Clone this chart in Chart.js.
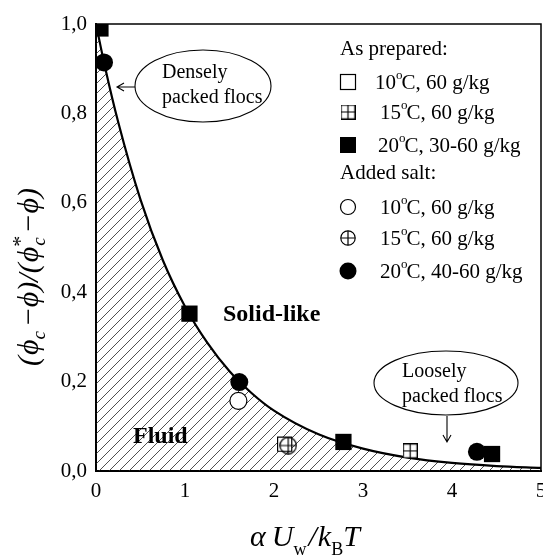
<!DOCTYPE html>
<html><head><meta charset="utf-8">
<script src="https://cdn.jsdelivr.net/npm/chart.js@4/dist/chart.umd.min.js"></script>
<style>html,body{margin:0;padding:0;background:#fff;overflow:hidden}</style>
</head><body>
<canvas id="c" width="543" height="555" style="width:543px;height:555px;display:block"></canvas>
<script>
// ---- data ----
const xTickLabels = ['0', '1', '2', '3', '4', '5'];
const yTickLabels = ['0,0', '0,2', '0,4', '0,6', '0,8', '1,0'];

// fitted boundary curve
const curveX = [0, 0.1, 0.25, 0.5, 0.75, 1.0, 1.25, 1.5, 1.75, 2.0, 2.5, 3.0, 3.5, 4.0, 4.5, 5.0];
const curveY = [1.0, 0.905, 0.78, 0.607, 0.472, 0.368, 0.287, 0.223, 0.174, 0.135, 0.082, 0.05, 0.03, 0.018, 0.011, 0.007];

// As prepared
const prep10X = [2.12];  const prep10Y = [0.06];
const prep15X = [3.53];  const prep15Y = [0.045];
const prep20X = [0.05, 1.05, 2.78, 4.45]; const prep20Y = [0.99, 0.352, 0.065, 0.038];
// Added salt
const salt10X = [1.60];  const salt10Y = [0.157];
const salt15X = [2.16];  const salt15Y = [0.057];
const salt20X = [0.09, 1.61, 4.28]; const salt20Y = [0.914, 0.199, 0.043];

const legendHeads = ['As prepared:', 'Added salt:'];
const legendTemps = ['10', '15', '20', '10', '15', '20'];
const legendRest = ['C, 60 g/kg', 'C, 60 g/kg', 'C, 30-60 g/kg', 'C, 60 g/kg', 'C, 60 g/kg', 'C, 40-60 g/kg'];

const pts = (xs, ys) => xs.map((x, i) => ({x: x, y: ys[i]}));

// ---- marker images ----
function makeCrossSquare(s) {
  const c = document.createElement('canvas'); c.width = s; c.height = s;
  const g = c.getContext('2d');
  g.fillStyle = '#fff'; g.fillRect(0, 0, s, s);
  g.strokeStyle = '#000'; g.lineWidth = 1.2;
  g.strokeRect(0.6, 0.6, s - 1.2, s - 1.2);
  g.beginPath(); g.moveTo(s / 2, 0); g.lineTo(s / 2, s); g.moveTo(0, s / 2); g.lineTo(s, s / 2); g.stroke();
  return c;
}
function makeCrossCircle(s) {
  const c = document.createElement('canvas'); c.width = s; c.height = s;
  const g = c.getContext('2d');
  const r = s / 2 - 0.8;
  g.strokeStyle = '#000'; g.lineWidth = 1.2;
  g.beginPath(); g.arc(s / 2, s / 2, r, 0, Math.PI * 2); g.stroke();
  g.beginPath(); g.moveTo(s / 2, s / 2 - r); g.lineTo(s / 2, s / 2 + r);
  g.moveTo(s / 2 - r, s / 2); g.lineTo(s / 2 + r, s / 2); g.stroke();
  return c;
}
const crossSq = makeCrossSquare(15);
const crossCi = makeCrossCircle(18);
const crossSqL = makeCrossSquare(15);
const crossCiL = makeCrossCircle(16);

// hatch pattern
function makeHatch() {
  const s = 10;
  const c = document.createElement('canvas'); c.width = s; c.height = s;
  const g = c.getContext('2d');
  g.strokeStyle = '#222'; g.lineWidth = 0.8;
  g.beginPath();
  g.moveTo(0, s); g.lineTo(s, 0);
  g.moveTo(-1, 1); g.lineTo(1, -1);
  g.moveTo(s - 1, s + 1); g.lineTo(s + 1, s - 1);
  g.stroke();
  return g.createPattern(c, 'repeat');
}

const serif = '"Liberation Serif", "Times New Roman", serif';

function drawRich(ctx, segs, x, y) {
  let w = 0;
  segs.forEach(s => { ctx.font = s.font; s.w = ctx.measureText(s.t).width; w += s.w + (s.gap || 0); });
  let cx = x - w / 2;
  ctx.textBaseline = 'alphabetic'; ctx.textAlign = 'left';
  segs.forEach(s => {
    ctx.font = s.font;
    ctx.fillText(s.t, cx, y + (s.dy || 0));
    cx += s.w + (s.gap || 0);
  });
}

const deco = {
  id: 'deco',
  afterDraw(chart) {
    const ctx = chart.ctx; const a = chart.chartArea;
    ctx.save();
    // top & right frame
    ctx.strokeStyle = '#000'; ctx.lineWidth = 1.5;
    ctx.beginPath(); ctx.moveTo(a.left, a.top); ctx.lineTo(a.right, a.top); ctx.lineTo(a.right, a.bottom); ctx.stroke();

    ctx.fillStyle = '#000';
    // region labels
    ctx.font = 'bold 24px ' + serif; ctx.textBaseline = 'middle'; ctx.textAlign = 'left';
    ctx.fillText('Solid-like', 223, 315);
    ctx.fillText('Fluid', 133, 437);

    // ellipses
    ctx.lineWidth = 1.1;
    ctx.beginPath(); ctx.ellipse(203, 86, 68, 36, 0, 0, Math.PI * 2); ctx.stroke();
    ctx.beginPath(); ctx.ellipse(446, 383, 72, 32, 0, 0, Math.PI * 2); ctx.stroke();
    ctx.font = '20px ' + serif;
    ctx.fillText('Densely', 162, 73);
    ctx.fillText('packed flocs', 162, 98);
    ctx.fillText('Loosely', 402, 372);
    ctx.fillText('packed flocs', 402, 397);
    // arrows
    ctx.beginPath(); ctx.moveTo(135, 87); ctx.lineTo(117, 87);
    ctx.moveTo(124, 83); ctx.lineTo(117, 87); ctx.lineTo(124, 91);
    ctx.moveTo(447, 416); ctx.lineTo(447, 442);
    ctx.moveTo(443, 435); ctx.lineTo(447, 442); ctx.lineTo(451, 435);
    ctx.stroke();

    // legend
    const rowsY = [82, 112, 145, 207, 238, 271];
    const textX = [375, 380, 378, 380, 380, 380];
    ctx.font = '21px ' + serif; ctx.textBaseline = 'middle';
    ctx.fillText(legendHeads[0], 340, 49);
    ctx.fillText(legendHeads[1], 340, 173);
    const mx = 348;
    rowsY.forEach((y, i) => {
      ctx.lineWidth = 1.2;
      if (i === 0) { ctx.fillStyle = '#fff'; ctx.fillRect(mx - 7.5, y - 7.5, 15, 15); ctx.strokeRect(mx - 7.5, y - 7.5, 15, 15); }
      if (i === 1) ctx.drawImage(crossSqL, mx - 7.5, y - 7.5);
      if (i === 2) { ctx.fillStyle = '#000'; ctx.fillRect(mx - 8, y - 8, 16, 16); }
      if (i === 3) { ctx.beginPath(); ctx.arc(mx, y, 7.5, 0, Math.PI * 2); ctx.stroke(); }
      if (i === 4) ctx.drawImage(crossCiL, mx - 8, y - 8);
      if (i === 5) { ctx.fillStyle = '#000'; ctx.beginPath(); ctx.arc(mx, y, 8.5, 0, Math.PI * 2); ctx.fill(); }
      ctx.fillStyle = '#000';
      ctx.font = '21px ' + serif;
      let x = textX[i];
      ctx.fillText(legendTemps[i], x, y + 1);
      x += ctx.measureText(legendTemps[i]).width;
      ctx.font = '13px ' + serif;
      ctx.fillText('o', x, y - 6);
      x += ctx.measureText('o').width - 1;
      ctx.font = '21px ' + serif;
      ctx.fillText(legendRest[i], x, y + 1);
    });

    // x axis title
    const it = 'italic 30px ' + serif, sub = '18px ' + serif;
    drawRich(ctx, [
      {t: 'α', font: it, gap: 6},
      {t: 'U', font: it},
      {t: 'w', font: sub, dy: 9, gap: 2},
      {t: '/', font: it, gap: 1},
      {t: 'k', font: it},
      {t: 'B', font: sub, dy: 9},
      {t: 'T', font: it}
    ], 305, 546);

    // y axis title
    ctx.translate(28, 277); ctx.rotate(-Math.PI / 2);
    const yt = 'italic 30px ' + serif, ysub = 'italic 19px ' + serif, up = '30px ' + serif;
    drawRich(ctx, [
      {t: '(', font: yt, gap: 1},
      {t: 'ϕ', font: yt},
      {t: 'c', font: ysub, dy: 7, gap: 6},
      {t: '−', font: up, gap: 1},
      {t: 'ϕ', font: yt},
      {t: ')/(', font: yt, gap: 1},
      {t: 'ϕ', font: yt},
      {t: '*', font: '22px ' + serif, dy: -11, gap: -10},
      {t: 'c', font: ysub, dy: 7, gap: 6},
      {t: '−', font: up, gap: 1},
      {t: 'ϕ', font: yt},
      {t: ')', font: yt}
    ], 0, 10);
    ctx.restore();
  }
};

const chart = new Chart(document.getElementById('c'), {
  data: {
    datasets: [
      {type: 'scatter', label: 'salt15', data: pts(salt15X, salt15Y), pointStyle: crossCi, order: 0},
      {type: 'scatter', label: 'prep10', data: pts(prep10X, prep10Y), pointStyle: 'rect', pointRadius: 10, backgroundColor: '#fff', borderColor: '#000', borderWidth: 1.2, order: 0},
      {type: 'scatter', label: 'prep15', data: pts(prep15X, prep15Y), pointStyle: crossSq, order: 0},
      {type: 'scatter', label: 'prep20', data: pts(prep20X, prep20Y), pointStyle: 'rect', pointRadius: 11.5, backgroundColor: '#000', borderColor: '#000', borderWidth: 0, order: 0},
      {type: 'scatter', label: 'salt10', data: pts(salt10X, salt10Y), pointStyle: 'circle', pointRadius: 8.5, backgroundColor: '#fff', borderColor: '#000', borderWidth: 1.2, order: 0},
      {type: 'scatter', label: 'salt20', data: pts(salt20X, salt20Y), pointStyle: 'circle', pointRadius: 9, backgroundColor: '#000', borderColor: '#000', borderWidth: 0, order: 0},
      {type: 'line', label: 'curve', data: pts(curveX, curveY), borderColor: '#000', borderWidth: 2.2, pointRadius: 0,
        cubicInterpolationMode: 'monotone', fill: 'origin', backgroundColor: makeHatch(), order: 5}
    ]
  },
  options: {
    responsive: false, animation: false, devicePixelRatio: 1,
    layout: {autoPadding: false, padding: {left: 0, top: 24, right: 2, bottom: 0}},
    plugins: {legend: {display: false}, tooltip: {enabled: false}},
    scales: {
      x: {
        type: 'linear', min: 0, max: 5,
        grid: {display: false, drawTicks: false},
        border: {color: '#000', width: 2},
        ticks: {stepSize: 1, color: '#000', padding: 8, maxRotation: 0, font: {family: serif, size: 21},
          callback: (v, i) => xTickLabels[i]},
        afterFit: s => { s.height = 84; s.paddingLeft = 0; s.paddingRight = 0; }
      },
      y: {
        type: 'linear', min: 0, max: 1,
        grid: {display: false, drawTicks: false},
        border: {color: '#000', width: 2},
        ticks: {stepSize: 0.2, color: '#000', padding: 9, font: {family: serif, size: 21},
          callback: (v, i) => yTickLabels[i]},
        afterFit: s => { s.width = 96; s.paddingTop = 0; s.paddingBottom = 0; }
      }
    }
  },
  plugins: [deco]
});
</script>
</body></html>
